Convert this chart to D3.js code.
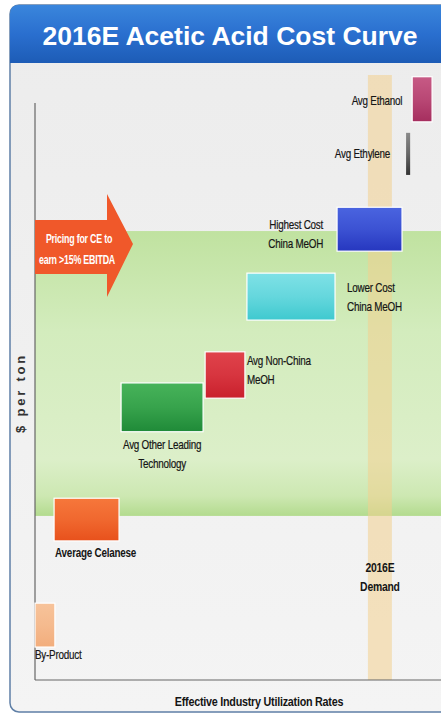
<!DOCTYPE html>
<html>
<head>
<meta charset="utf-8">
<script src="https://cdn.jsdelivr.net/npm/d3@7"></script>
<style>
  body { margin: 0; background: #fff; }
  svg { display: block; }
  .lbl { font-family: "Liberation Sans", Arial, sans-serif; font-size: 13px; fill: #151515; stroke: #151515; stroke-width: 0.2px; letter-spacing: -0.3px; }
  .bold { font-weight: bold; stroke-width: 0; }
</style>
</head>
<body>
<div id="chart"></div>
<script>
// cost curve segments (capacity share in %, cost index)
const segments = ["By-Product", "Average Celanese", "Avg Other Leading Technology", "Avg Non-China MeOH",
  "Lower Cost China MeOH", "Highest Cost China MeOH", "Avg Ethylene", "Avg Ethanol"];
const capStart = [0, 4.7, 21.2, 41.9, 52.2, 74.4, 91.4, 92.9];
const capEnd = [4.9, 20.7, 41.4, 51.7, 73.9, 90.4, 92.4, 97.8];
const costLow = [5.4, 22.8, 40.7, 46.2, 59.0, 70.3, 82.8, 91.5];
const costHigh = [12.6, 29.8, 48.7, 53.8, 66.7, 77.5, 89.7, 98.9];
const segColors = [["#f7c39a", "#f2ad7c"], ["#f6773b", "#e8511c"], ["#47b35a", "#1f8a38"], ["#e0434b", "#c9202c"],
  ["#7fe1e6", "#3fc9cf"], ["#4a64e0", "#2637bf"], ["#8a8a8a", "#333"], ["#c75a85", "#a52e5e"]];
const pricingBand = [26.9, 73.6];   // cost range that earns >15% EBITDA
const demandRange = [82.0, 87.9];   // 2016E demand, capacity %

let svgWidth = 441;
let svgHeight = 715;

let svg = d3.select("#chart").append("svg")
  .attr("width", svgWidth)
  .attr("height", svgHeight);

let defs = svg.append("defs");

function vGrad(id, stops) {
  let g = defs.append("linearGradient").attr("id", id)
    .attr("x1", 0).attr("y1", 0).attr("x2", 0).attr("y2", 1);
  stops.forEach(s => g.append("stop").attr("offset", s[0]).attr("stop-color", s[1]));
}
vGrad("titleGrad", [[0, "#3a86dc"], [0.5, "#2a6fcf"], [1, "#1d5cb6"]]);
vGrad("bgGrad", [[0, "#ececec"], [1, "#f4f4f4"]]);
vGrad("greenGrad", [[0, "#c0e2a0"], [0.35, "#d3ecbd"], [0.8, "#dcefc9"], [0.93, "#cde8b2"], [1, "#b3db8e"]]);
segColors.forEach((c, i) => vGrad("seg" + i, [[0, c[0]], [0.5, d3.interpolateRgb(c[0], c[1])(0.4)], [1, c[1]]]));

// frame
svg.append("rect")
  .attr("x", 10).attr("y", 5).attr("width", 460).attr("height", 707)
  .attr("rx", 9)
  .attr("fill", "url(#bgGrad)")
  .attr("stroke", "#5f7fa6").attr("stroke-width", 1.5);

// title bar
svg.append("path")
  .attr("d", "M10,63 L10,14 Q10,5 19,5 L445,5 L445,63 Z")
  .attr("fill", "url(#titleGrad)");
svg.append("text")
  .attr("x", 230).attr("y", 45)
  .attr("text-anchor", "middle")
  .attr("font-family", "Liberation Sans, Arial, sans-serif")
  .attr("font-weight", "bold")
  .attr("font-size", 26.5)
  .attr("fill", "#fff")
  .text("2016E Acetic Acid Cost Curve");

let x = d3.scaleLinear().domain([0, 100]).range([35, 441]);
let y = d3.scaleLinear().domain([0, 100]).range([680, 70]);

// pricing band
svg.append("rect")
  .attr("x", x(0)).attr("y", y(pricingBand[1]))
  .attr("width", x(100) - x(0))
  .attr("height", y(pricingBand[0]) - y(pricingBand[1]))
  .attr("fill", "url(#greenGrad)");

// demand band
svg.append("rect")
  .attr("x", x(demandRange[0])).attr("y", 75)
  .attr("width", x(demandRange[1]) - x(demandRange[0]))
  .attr("height", y(0) - 75)
  .attr("fill", "#f3cf8e").attr("opacity", 0.55);

// axes
svg.append("line")
  .attr("x1", x(0)).attr("x2", x(0)).attr("y1", 103).attr("y2", y(0))
  .attr("stroke", "#666").attr("stroke-width", 1.2);
svg.append("line")
  .attr("x1", x(0)).attr("x2", 441).attr("y1", y(0)).attr("y2", y(0))
  .attr("stroke", "#666").attr("stroke-width", 1.2);

// bars
svg.selectAll("rect.seg")
  .data(segments)
  .enter()
  .append("rect")
  .classed("seg", true)
  .attr("x", (d, i) => x(capStart[i]))
  .attr("y", (d, i) => y(costHigh[i]))
  .attr("width", (d, i) => x(capEnd[i]) - x(capStart[i]))
  .attr("height", (d, i) => y(costLow[i]) - y(costHigh[i]))
  .attr("fill", (d, i) => "url(#seg" + i + ")")
  .attr("stroke", (d, i) => i === 6 ? "none" : "#fff")
  .attr("stroke-width", 1.2);

// narrow text: squeeze horizontally like the original condensed font
function label(lines, lx, ly, anchor, bold, sx) {
  let g = svg.append("g").attr("transform", `translate(${lx},${ly}) scale(${sx || 0.76},1)`);
  let t = g.append("text").attr("class", "lbl" + (bold ? " bold" : ""))
    .attr("text-anchor", anchor);
  lines.forEach((l, k) => t.append("tspan").attr("x", 0).attr("y", k * 19).text(l));
  return t;
}

// arrow
let ay = y(71);
svg.append("path")
  .attr("d", `M${x(0)},${ay - 27} L107,${ay - 27} L107,${ay - 53} L133,${ay - 3} L107,${ay + 50} L107,${ay + 27} L${x(0)},${ay + 27} Z`)
  .attr("fill", "#f0582a");
label(["Pricing for CE to"], 79, ay - 4, "middle", true, 0.74).style("fill", "#fff").style("font-size", "12px");
label(["earn >15% EBITDA"], 77, ay + 17, "middle", true, 0.74).style("fill", "#fff").style("font-size", "12px");

// segment labels
label(["Avg Ethanol"], x(capStart[7]) - 10, y(95) + 4, "end");
label(["Avg Ethylene"], x(capStart[6]) - 16, y(86.3) + 4, "end");
label(["Highest Cost", "China MeOH"], x(capStart[5]) - 14, y(74.6) + 4, "end");
label(["Lower Cost", "China MeOH"], x(capEnd[4]) + 12, y(64.2) + 4, "start");
label(["Avg Non-China", "MeOH"], x(capEnd[3]) + 2, y(52.3) + 4, "start");
label(["Avg Other Leading", "Technology"], (x(capStart[2]) + x(capEnd[2])) / 2, y(38.6) + 4, "middle");
label(["Average Celanese"], x(capStart[1]) + 1, y(20.8) + 4, "start", true, 0.76);
label(["By-Product"], x(0), y(4.1) + 4, "start");
label(["2016E", "Demand"], x((demandRange[0] + demandRange[1]) / 2), y(18.3) + 4, "middle", true, 0.8);

// axis titles
label(["Effective Industry Utilization Rates"], 259, 706, "middle", true, 0.83);
svg.append("text")
  .attr("transform", "translate(25,393) rotate(-90)")
  .attr("text-anchor", "middle")
  .attr("font-family", "Liberation Sans, Arial, sans-serif")
  .attr("font-weight", "bold")
  .attr("font-size", 13)
  .attr("letter-spacing", 2.8)
  .attr("fill", "#333")
  .text("$ per ton");
</script>
</body>
</html>
